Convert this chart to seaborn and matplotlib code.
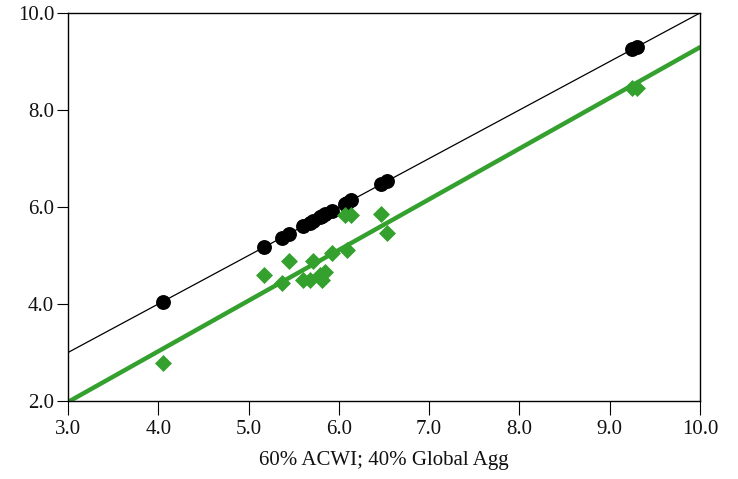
import numpy as np
import pandas as pd
import seaborn as sns
import matplotlib
matplotlib.use("Agg")
import matplotlib.pyplot as plt

# Data
x_vals = [4.05, 5.17, 5.37, 5.45, 5.60, 5.68, 5.71, 5.79, 5.81, 5.85,
          5.92, 6.09, 6.07, 6.14, 6.47, 6.53, 9.25, 9.30]
black_vals = [4.05, 5.17, 5.37, 5.45, 5.60, 5.68, 5.71, 5.79, 5.81, 5.85,
              5.92, 6.09, 6.07, 6.14, 6.47, 6.53, 9.25, 9.30]
green_vals = [2.78, 4.60, 4.44, 4.89, 4.49, 4.50, 4.89, 4.60, 4.49, 4.66,
              5.05, 5.11, 5.84, 5.84, 5.86, 5.46, 8.45, 8.45]
x_ticks = [3.0, 4.0, 5.0, 6.0, 7.0, 8.0, 9.0, 10.0]
y_ticks = [2.0, 4.0, 6.0, 8.0, 10.0]
x_label = "60% ACWI; 40% Global Agg"

df = pd.DataFrame({"x": x_vals, "black": black_vals, "green": green_vals})

sns.set_style("ticks")
plt.rcParams['font.family'] = ['Liberation Serif', 'DejaVu Serif']

GREEN = "#34a02e"
fig = plt.figure(figsize=(7.38, 4.79), dpi=100)
ax = fig.add_axes([0.0921, 0.1628, 0.8564, 0.8101])
ax.set_xlim(3, 10)
ax.set_ylim(2, 10)

sns.regplot(data=df, x="x", y="black", ax=ax, scatter=False, ci=None,
            truncate=False, line_kws=dict(color="black", lw=0.9))
sns.regplot(data=df, x="x", y="green", ax=ax, scatter=False, ci=None,
            truncate=False, line_kws=dict(color=GREEN, lw=3.2))
sns.scatterplot(data=df, x="x", y="black", ax=ax, color="black", marker="o",
                s=115, edgecolor="black", linewidth=0, zorder=4)
sns.scatterplot(data=df, x="x", y="green", ax=ax, color=GREEN, marker="D",
                s=75, edgecolor=GREEN, linewidth=0, zorder=4)

ax.set_xlim(3, 10)
ax.set_ylim(2, 10)
ax.set_xticks(x_ticks)
ax.set_yticks(y_ticks)
ax.set_xticklabels([f"{t:.1f}" for t in x_ticks])
ax.set_yticklabels([f"{t:.1f}" for t in y_ticks])
ax.set_xlabel(x_label, fontsize=15, labelpad=8, color="#111111")
ax.set_ylabel("")
for s in ax.spines.values():
    s.set_visible(True)
    s.set_color("black")
    s.set_linewidth(1.0)
ax.tick_params(axis="both", direction="out", length=8, width=0.8,
               colors="black", labelsize=15, labelcolor="#111111")
ax.tick_params(axis="x", length=10, pad=4)
ax.tick_params(axis="y", pad=2)

fig.savefig("out.png", dpi=100)
